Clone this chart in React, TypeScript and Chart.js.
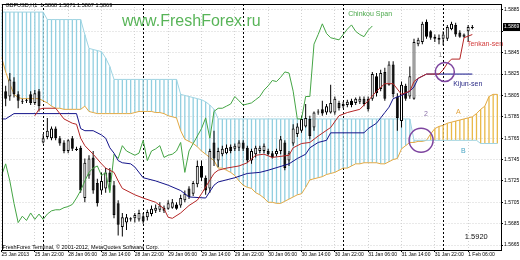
import React, { useEffect, useRef } from "react";
import { Chart, registerables } from "chart.js";
Chart.register(...registerables);

// ---- axis labels ----
const xTickIdx = [0, 8, 16, 24, 32, 40, 48, 56, 64, 72, 80, 88, 96, 104, 112];
const xTickLabels = ["25 Jan 2013", "25 Jan 22:00", "28 Jan 06:00", "28 Jan 14:00", "28 Jan 22:00", "29 Jan 06:00", "29 Jan 14:00", "29 Jan 22:00", "30 Jan 06:00", "30 Jan 14:00", "30 Jan 22:00", "31 Jan 06:00", "31 Jan 14:00", "31 Jan 22:00", "1 Feb 06:00"];
const daySepIdx = [10, 34, 58, 82, 106];
const yTicks = [1.5885, 1.5865, 1.5845, 1.5825, 1.5805, 1.5785, 1.5765, 1.5745, 1.5725, 1.5705, 1.5685, 1.5665];
const lastPrice = 1.5869;

// ---- candles (bar index 0..113) ----
const openP = [null,
  1.5809, 1.5804, 1.5818, 1.5806, 1.5800, 1.5800, 1.5806, 1.5798, 1.5809,
  1.5761, 1.5766, 1.5765, 1.5774, 1.5765, 1.5761, 1.5753, 1.5765, 1.5755, 1.5756,
  1.5709, 1.5730, 1.5747, 1.5723, 1.5716, 1.5718, 1.5733, 1.5721, 1.5704, 1.5682,
  1.5686, 1.5689, 1.5690, 1.5689, 1.5692, 1.5691, 1.5694, 1.5697, 1.5698, 1.5700,
  1.5699, 1.5700, 1.5703, 1.5702, 1.5707, 1.5718, 1.5713, 1.5722, 1.5739, 1.5728,
  1.5718, 1.5761, 1.5744, 1.5750, 1.5751, 1.5757, 1.5755, 1.5756, 1.5761, 1.5756,
  1.5744, 1.5750, 1.5753, 1.5753, 1.5753, 1.5751, 1.5750, 1.5753, 1.5761, 1.5744,
  1.5760, 1.5769, 1.5772, 1.5776, 1.5783, 1.5775, 1.5789, 1.5792, 1.5789, 1.5789,
  1.5789, 1.5798, 1.5797, 1.5796, 1.5800, 1.5798, 1.5799, 1.5802, 1.5802, 1.5802,
  1.5823, 1.5811, 1.5827, 1.5815, 1.5834, 1.5804, 1.5781, 1.5814, 1.5804, 1.5802,
  1.5853, 1.5855, 1.5874, 1.5865, 1.5858, 1.5859, 1.5858, 1.5858, 1.5867, 1.5871,
  1.5864, 1.5860, 1.5865, 1.5868];
const highP = [null,
  1.5814, 1.5826, 1.5822, 1.5809, 1.5802, 1.5802, 1.5809, 1.5810, 1.5811,
  1.5769, 1.5784, 1.5776, 1.5776, 1.5767, 1.5763, 1.5764, 1.5767, 1.5757, 1.5758,
  1.5746, 1.5749, 1.5753, 1.5727, 1.5733, 1.5737, 1.5737, 1.5725, 1.5707, 1.5695,
  1.5694, 1.5691, 1.5695, 1.5698, 1.5695, 1.5698, 1.5702, 1.5703, 1.5705, 1.5702,
  1.5707, 1.5708, 1.5705, 1.5712, 1.5716, 1.5720, 1.5725, 1.5744, 1.5744, 1.5730,
  1.5755, 1.5772, 1.5756, 1.5758, 1.5759, 1.5759, 1.5760, 1.5763, 1.5763, 1.5758,
  1.5755, 1.5758, 1.5758, 1.5760, 1.5755, 1.5753, 1.5755, 1.5767, 1.5763, 1.5753,
  1.5778, 1.5779, 1.5786, 1.5797, 1.5786, 1.5790, 1.5792, 1.5800, 1.5797, 1.5815,
  1.5804, 1.5800, 1.5799, 1.5801, 1.5802, 1.5803, 1.5804, 1.5804, 1.5804, 1.5827,
  1.5826, 1.5829, 1.5831, 1.5837, 1.5837, 1.5807, 1.5818, 1.5816, 1.5832, 1.5858,
  1.5859, 1.5874, 1.5876, 1.5866, 1.5862, 1.5862, 1.5865, 1.5871, 1.5874, 1.5873,
  1.5866, 1.5863, 1.5871, 1.5871];
const lowP = [null,
  1.5795, 1.5800, 1.5803, 1.5793, 1.5797, 1.5798, 1.5796, 1.5796, 1.5790,
  1.5760, 1.5764, 1.5763, 1.5763, 1.5758, 1.5751, 1.5751, 1.5753, 1.5753, 1.5714,
  1.5705, 1.5727, 1.5713, 1.5701, 1.5712, 1.5714, 1.5716, 1.5690, 1.5674, 1.5673,
  1.5679, 1.5687, 1.5686, 1.5687, 1.5685, 1.5688, 1.5692, 1.5695, 1.5696, 1.5695,
  1.5698, 1.5699, 1.5698, 1.5700, 1.5705, 1.5708, 1.5711, 1.5719, 1.5725, 1.5712,
  1.5714, 1.5739, 1.5738, 1.5748, 1.5750, 1.5751, 1.5753, 1.5753, 1.5753, 1.5742,
  1.5741, 1.5747, 1.5751, 1.5751, 1.5749, 1.5746, 1.5748, 1.5750, 1.5735, 1.5739,
  1.5758, 1.5766, 1.5770, 1.5775, 1.5764, 1.5772, 1.5787, 1.5786, 1.5787, 1.5788,
  1.5787, 1.5791, 1.5793, 1.5794, 1.5794, 1.5796, 1.5797, 1.5795, 1.5790, 1.5800,
  1.5804, 1.5809, 1.5800, 1.5814, 1.5803, 1.5772, 1.5775, 1.5800, 1.5802, 1.5801,
  1.5851, 1.5853, 1.5858, 1.5857, 1.5855, 1.5853, 1.5852, 1.5856, 1.5866, 1.5860,
  1.5859, 1.5859, 1.5855, 1.5867];
const closeP = [null,
  1.5802, 1.5820, 1.5806, 1.5800, 1.5799, 1.5801, 1.5798, 1.5807, 1.5795,
  1.5765, 1.5772, 1.5774, 1.5765, 1.5760, 1.5753, 1.5763, 1.5755, 1.5754, 1.5716,
  1.5742, 1.5746, 1.5716, 1.5704, 1.5725, 1.5733, 1.5724, 1.5693, 1.5684, 1.5691,
  1.5691, 1.5690, 1.5693, 1.5695, 1.5687, 1.5696, 1.5699, 1.5700, 1.5702, 1.5697,
  1.5704, 1.5705, 1.5699, 1.5709, 1.5713, 1.5710, 1.5723, 1.5739, 1.5728, 1.5716,
  1.5753, 1.5746, 1.5753, 1.5755, 1.5756, 1.5753, 1.5758, 1.5761, 1.5755, 1.5744,
  1.5753, 1.5756, 1.5756, 1.5758, 1.5750, 1.5747, 1.5753, 1.5764, 1.5737, 1.5751,
  1.5774, 1.5776, 1.5783, 1.5784, 1.5767, 1.5789, 1.5790, 1.5788, 1.5795, 1.5798,
  1.5802, 1.5793, 1.5795, 1.5799, 1.5796, 1.5802, 1.5802, 1.5797, 1.5792, 1.5825,
  1.5807, 1.5826, 1.5802, 1.5834, 1.5806, 1.5784, 1.5815, 1.5802, 1.5823, 1.5855,
  1.5857, 1.5872, 1.5860, 1.5859, 1.5860, 1.5857, 1.5862, 1.5869, 1.5872, 1.5862,
  1.5860, 1.5862, 1.5869, 1.5869];

// ---- Ichimoku ----
const tenkanIdx = [8, 9, 10, 13, 15, 17, 18, 19, 20, 22, 24, 25, 27, 28, 29, 32, 34, 37, 39, 40, 41, 43, 45, 47, 48, 51, 52, 54, 57, 59, 61, 63, 65, 69, 70, 72, 74, 76, 79, 81, 83, 86, 88, 90, 92, 94, 96, 98, 99, 100, 102, 105, 106, 107, 108, 110, 111, 113];
const tenkanVal = [1.5786, 1.5792, 1.5793, 1.5793, 1.5783, 1.5779, 1.5778, 1.5765, 1.5758, 1.5750, 1.5741, 1.5737, 1.5733, 1.5725, 1.5718, 1.5712, 1.5709, 1.5705, 1.5699, 1.5691, 1.5690, 1.5695, 1.5702, 1.5707, 1.5713, 1.5732, 1.5735, 1.5737, 1.5739, 1.5742, 1.5749, 1.5750, 1.5747, 1.5749, 1.5756, 1.5760, 1.5761, 1.5767, 1.5775, 1.5786, 1.5789, 1.5792, 1.5800, 1.5809, 1.5816, 1.5816, 1.5806, 1.5809, 1.5818, 1.5821, 1.5825, 1.5825, 1.5829, 1.5835, 1.5839, 1.5839, 1.5859, 1.5862];
const kijunIdx = [0, 1, 3, 18, 19, 20, 22, 24, 25, 26, 27, 28, 29, 31, 32, 34, 37, 40, 43, 45, 49, 51, 52, 56, 59, 62, 64, 69, 71, 73, 74, 76, 78, 79, 87, 88, 90, 91, 92, 93, 94, 96, 98, 99, 100, 102, 113];
const kijunVal = [1.5783, 1.5783, 1.5788, 1.5788, 1.5774, 1.5772, 1.5772, 1.5768, 1.5765, 1.5756, 1.5751, 1.5744, 1.5742, 1.5741, 1.5738, 1.5728, 1.5725, 1.5721, 1.5716, 1.5710, 1.5709, 1.5721, 1.5724, 1.5728, 1.5732, 1.5733, 1.5735, 1.5741, 1.5746, 1.5750, 1.5756, 1.5761, 1.5763, 1.5770, 1.5770, 1.5774, 1.5779, 1.5784, 1.5789, 1.5794, 1.5802, 1.5805, 1.5809, 1.5813, 1.5821, 1.5825, 1.5825];
const chinkouVal = [
  1.5730, 1.5741, 1.5725, 1.5704, 1.5686, 1.5692, 1.5688, 1.5695, 1.5689, 1.5694,
  1.5689, 1.5694, 1.5697, 1.5698, 1.5698, 1.5700, 1.5701, 1.5703, 1.5709, 1.5716,
  1.5725, 1.5733, 1.5737, 1.5739, 1.5730, 1.5733, 1.5714, 1.5750, 1.5746, 1.5758,
  1.5753, 1.5751, 1.5749, 1.5751, 1.5763, 1.5744, 1.5753, 1.5755, 1.5758, 1.5747,
  1.5749, 1.5750, 1.5753, 1.5761, 1.5733, 1.5753, 1.5760, 1.5767, 1.5774, 1.5784,
  1.5765, 1.5790, 1.5793, 1.5793, 1.5795, 1.5797, 1.5804, 1.5800, 1.5796, 1.5797,
  1.5798, 1.5801, 1.5804, 1.5810, 1.5814, 1.5819, 1.5818, 1.5822, 1.5827, 1.5826,
  1.5809, 1.5783, 1.5783, 1.5804, 1.5804, 1.5853, 1.5862, 1.5872, 1.5863, 1.5859,
  1.5858, 1.5857, 1.5862, 1.5867, 1.5871, 1.5865, 1.5862, 1.5860, 1.5866, 1.5870];
const spanA = [
  1.5841, 1.5827, 1.5816, 1.5806, 1.5803, 1.5802, 1.5802, 1.5802, 1.5802, 1.5802,
  1.5800, 1.5798, 1.5795, 1.5793, 1.5793, 1.5792, 1.5792, 1.5792, 1.5792, 1.5792,
  1.5795, 1.5790, 1.5789, 1.5788, 1.5788, 1.5788, 1.5788, 1.5788, 1.5788, 1.5788,
  1.5788, 1.5788, 1.5789, 1.5790, 1.5790, 1.5790, 1.5790, 1.5789, 1.5789, 1.5788,
  1.5786, 1.5785, 1.5784, 1.5772, 1.5764, 1.5762, 1.5760, 1.5757, 1.5753, 1.5750,
  1.5747, 1.5744, 1.5737, 1.5737, 1.5735, 1.5733, 1.5730, 1.5725, 1.5721, 1.5719,
  1.5718, 1.5714, 1.5712, 1.5709, 1.5705, 1.5705, 1.5704, 1.5704, 1.5706, 1.5708,
  1.5710, 1.5712, 1.5713, 1.5719, 1.5726, 1.5727, 1.5728, 1.5729, 1.5731, 1.5732,
  1.5733, 1.5735, 1.5737, 1.5737, 1.5739, 1.5741, 1.5741, 1.5742, 1.5742, 1.5742,
  1.5742, 1.5741, 1.5741, 1.5743, 1.5745, 1.5746, 1.5755, 1.5758, 1.5761, 1.5761,
  1.5762, 1.5762, 1.5763, 1.5769, 1.5774, 1.5776, 1.5777, 1.5779, 1.5780, 1.5781,
  1.5782, 1.5783, 1.5784, 1.5785, 1.5788, 1.5792, 1.5795, 1.5804, 1.5806, 1.5806];
const spanB = [
  1.5883, 1.5883, 1.5883, 1.5883, 1.5883, 1.5883, 1.5883, 1.5883, 1.5883, 1.5883,
  1.5883, 1.5876, 1.5876, 1.5876, 1.5876, 1.5876, 1.5876, 1.5876, 1.5876, 1.5876,
  1.5862, 1.5849, 1.5848, 1.5847, 1.5846, 1.5840, 1.5832, 1.5820, 1.5820, 1.5820,
  1.5820, 1.5820, 1.5820, 1.5820, 1.5820, 1.5820, 1.5820, 1.5820, 1.5820, 1.5820,
  1.5820, 1.5820, 1.5820, 1.5806, 1.5805, 1.5804, 1.5803, 1.5802, 1.5801, 1.5799,
  1.5796, 1.5792, 1.5783, 1.5783, 1.5783, 1.5783, 1.5783, 1.5783, 1.5783, 1.5783,
  1.5783, 1.5783, 1.5783, 1.5783, 1.5783, 1.5783, 1.5783, 1.5783, 1.5783, 1.5783,
  1.5783, 1.5783, 1.5783, 1.5783, 1.5783, 1.5783, 1.5783, 1.5783, 1.5783, 1.5783,
  1.5783, 1.5783, 1.5783, 1.5783, 1.5783, 1.5783, 1.5783, 1.5783, 1.5783, 1.5783,
  1.5783, 1.5783, 1.5783, 1.5783, 1.5783, 1.5783, 1.5783, 1.5783, 1.5783, 1.5763,
  1.5763, 1.5763, 1.5763, 1.5763, 1.5763, 1.5763, 1.5763, 1.5763, 1.5763, 1.5763,
  1.5763, 1.5763, 1.5763, 1.5763, 1.5763, 1.5760, 1.5760, 1.5760, 1.5760, 1.5760];

// ---- annotations (anchored in data units) ----
const noteText = ["Chinkou Span", "Tenkan-sen", "Kijun-sen", "1", "2", "A", "B", "1.5920"];
const noteIdx = [83.2, 111.7, 108.4, 104.8, 101.4, 109.1, 110.3, 111.2];
const notePrice = [1.5881, 1.5853, 1.5816, 1.5843, 1.5788, 1.5789, 1.5753, 1.5673];
const circleIdx = [106.4, 100.7];
const circlePrice = [1.5827, 1.5763];

const FONT = "'Liberation Sans', Arial, sans-serif";
const noteColor = ["#4ba84b", "#d23c3c", "#2a2a86", "#9a9a9a", "#8a70a8", "#e2a33c", "#4aa6c4", "#111111"];
const noteSize = [7, 7, 7, 7, 7, 7, 7, 7.5];
const circleR = [9.5, 12];

const decor = {
  id: "decor",
  beforeDatasetsDraw(chart: any) {
    const { ctx, chartArea: a, scales } = chart;
    ctx.save();
    ctx.strokeStyle = "#000";
    ctx.lineWidth = 1;
    ctx.setLineDash([2, 2]);
    daySepIdx.forEach((i) => {
      const px = Math.round(scales.x.getPixelForValue(i)) + 0.5;
      ctx.beginPath();
      ctx.moveTo(px, a.top);
      ctx.lineTo(px, a.bottom);
      ctx.stroke();
    });
    ctx.restore();
  },
  afterDatasetsDraw(chart: any) {
    const { ctx, chartArea: a, scales } = chart;
    const x = scales.x, y = scales.y;
    ctx.save();
    ctx.fillStyle = "#58b458";
    ctx.font = `16px ${FONT}`;
    ctx.textBaseline = "alphabetic";
    ctx.textAlign = "left";
    ctx.fillText("www.FreshForex.ru", 122, 26);
    ctx.fillStyle = "#000";
    ctx.font = `5.5px ${FONT}`;
    ctx.textBaseline = "middle";
    ctx.fillText("GBPUSD,H1  1.5868 1.5871 1.5867 1.5869", a.left + 4, 5);
    ctx.fillText("FreshForex Terminal, \u00a9 2001-2012, MetaQuotes Software Corp.", a.left + 1, 247);
    noteText.forEach((t, i) => {
      ctx.fillStyle = noteColor[i];
      ctx.font = `${noteSize[i]}px ${FONT}`;
      ctx.fillText(t, x.getPixelForValue(noteIdx[i]), y.getPixelForValue(notePrice[i]));
    });
    ctx.strokeStyle = "#7d449f";
    ctx.lineWidth = 1.5;
    circleIdx.forEach((ci, i) => {
      ctx.beginPath();
      ctx.arc(x.getPixelForValue(ci), y.getPixelForValue(circlePrice[i]), circleR[i], 0, Math.PI * 2);
      ctx.stroke();
    });
    ctx.restore();
  },
  afterDraw(chart: any) {
    const { ctx, chartArea: a } = chart;
    ctx.save();
    ctx.strokeStyle = "#000";
    ctx.lineWidth = 1;
    ctx.strokeRect(Math.round(a.left) + 0.5, Math.round(a.top) + 0.5, Math.round(a.right - a.left) - 1, Math.round(a.bottom - a.top));
    ctx.restore();
  },
};

export default function App() {
  const ref = useRef<HTMLCanvasElement>(null);
  useEffect(() => {
    const idx: number[] = [];
    for (let i = 1; i < openP.length; i++) idx.push(i);
    const hatch = spanA.map((v, i) => ({ x: i, y: [v, spanB[i]] }));
    const hatchColors = spanA.map((v, i) => (spanB[i] > v ? "#92cfe0" : "#e9b948"));
    const wicks = idx.map((i) => ({ x: i, y: [lowP[i], highP[i]] }));
    const bodies = idx.map((i) => ({ x: i, y: [openP[i], closeP[i]] }));
    const bodyColors = idx.map((i) => ((closeP[i] as number) >= (openP[i] as number) ? "#ffffff" : "#000000"));
    const line = (xs: number[], ys: number[]) => xs.map((v, i) => ({ x: v, y: ys[i] }));
    const lineOpts = { type: "line", pointRadius: 0, borderWidth: 1, tension: 0, fill: false };

    const chart = new Chart(ref.current as HTMLCanvasElement, {
      type: "bar",
      data: {
        datasets: [
          { type: "bar", data: hatch, backgroundColor: hatchColors, barThickness: 1.3, grouped: false, inflateAmount: 0, order: 10 } as any,
          { ...lineOpts, data: spanB.map((v, i) => ({ x: i, y: v })), borderColor: "#9fd4e2", order: 8 } as any,
          { ...lineOpts, data: spanA.map((v, i) => ({ x: i, y: v })), borderColor: "#e2a944", order: 8 } as any,
          { type: "bar", data: wicks, backgroundColor: "#000", barThickness: 1, grouped: false, inflateAmount: 0, order: 6 } as any,
          { type: "bar", data: bodies, backgroundColor: bodyColors, borderColor: "#000", borderWidth: 1, borderSkipped: false, barThickness: 3, grouped: false, inflateAmount: 0, order: 5 } as any,
          { ...lineOpts, data: chinkouVal.map((v, i) => ({ x: i, y: v })), borderColor: "#45a545", order: 4 } as any,
          { ...lineOpts, data: line(kijunIdx, kijunVal), borderColor: "#14148a", order: 3 } as any,
          { ...lineOpts, data: line(tenkanIdx, tenkanVal), borderColor: "#b52626", order: 2 } as any,
        ],
      },
      options: {
        responsive: false,
        devicePixelRatio: 1,
        animation: false,
        events: [],
        layout: { padding: { left: 1.5, top: 2, right: 0, bottom: 0 } },
        plugins: { legend: { display: false }, tooltip: { enabled: false } },
        scales: {
          x: {
            type: "linear",
            min: 0,
            max: 119.88,
            offset: false,
            afterBuildTicks: (s: any) => { s.ticks = xTickIdx.map((v) => ({ value: v })); },
            afterFit: (s: any) => { s.height = 10; },
            ticks: {
              autoSkip: false, maxRotation: 0, minRotation: 0, align: "start", padding: 0,
              color: "#000", font: { family: FONT, size: 5 },
              callback: (v: any) => { const k = xTickIdx.indexOf(v); return k >= 0 ? xTickLabels[k] : ""; },
            },
            grid: { color: "#d2d2d2", tickColor: "#000", tickLength: 2, offset: false },
            border: { display: false, dash: [1, 2] },
          },
          y: {
            type: "linear",
            position: "right",
            min: 1.566036,
            max: 1.589057,
            afterBuildTicks: (s: any) => { s.ticks = [...yTicks, lastPrice].map((v) => ({ value: v })); },
            afterFit: (s: any) => { s.width = 19; },
            ticks: {
              autoSkip: false, padding: 1,
              font: { family: FONT, size: 5 },
              color: (c: any) => (c.tick && c.tick.value === lastPrice ? "#fff" : "#000"),
              showLabelBackdrop: (c: any) => !!(c.tick && c.tick.value === lastPrice),
              backdropColor: "#000",
              backdropPadding: { top: 1, bottom: 1, left: 1, right: 2 },
              callback: (v: any) => (v !== lastPrice && Math.abs(v - lastPrice) < 0.0005 ? "" : Number(v).toFixed(4)),
            },
            grid: {
              color: (c: any) => (c.tick && c.tick.value === lastPrice ? "rgba(0,0,0,0)" : "#d2d2d2"),
              tickColor: (c: any) => (c.tick && c.tick.value === lastPrice ? "rgba(0,0,0,0)" : "#000"),
              tickLength: 2,
            },
            border: { display: false, dash: [1, 2] },
          },
        },
      },
      plugins: [decor],
    } as any);
    return () => chart.destroy();
  }, []);
  return (
    <div style={{ position: "fixed", left: 0, top: 0, width: 520, height: 260, background: "#fff" }}>
      <canvas ref={ref} width={520} height={260} style={{ display: "block", width: 520, height: 260 }} />
    </div>
  );
}
